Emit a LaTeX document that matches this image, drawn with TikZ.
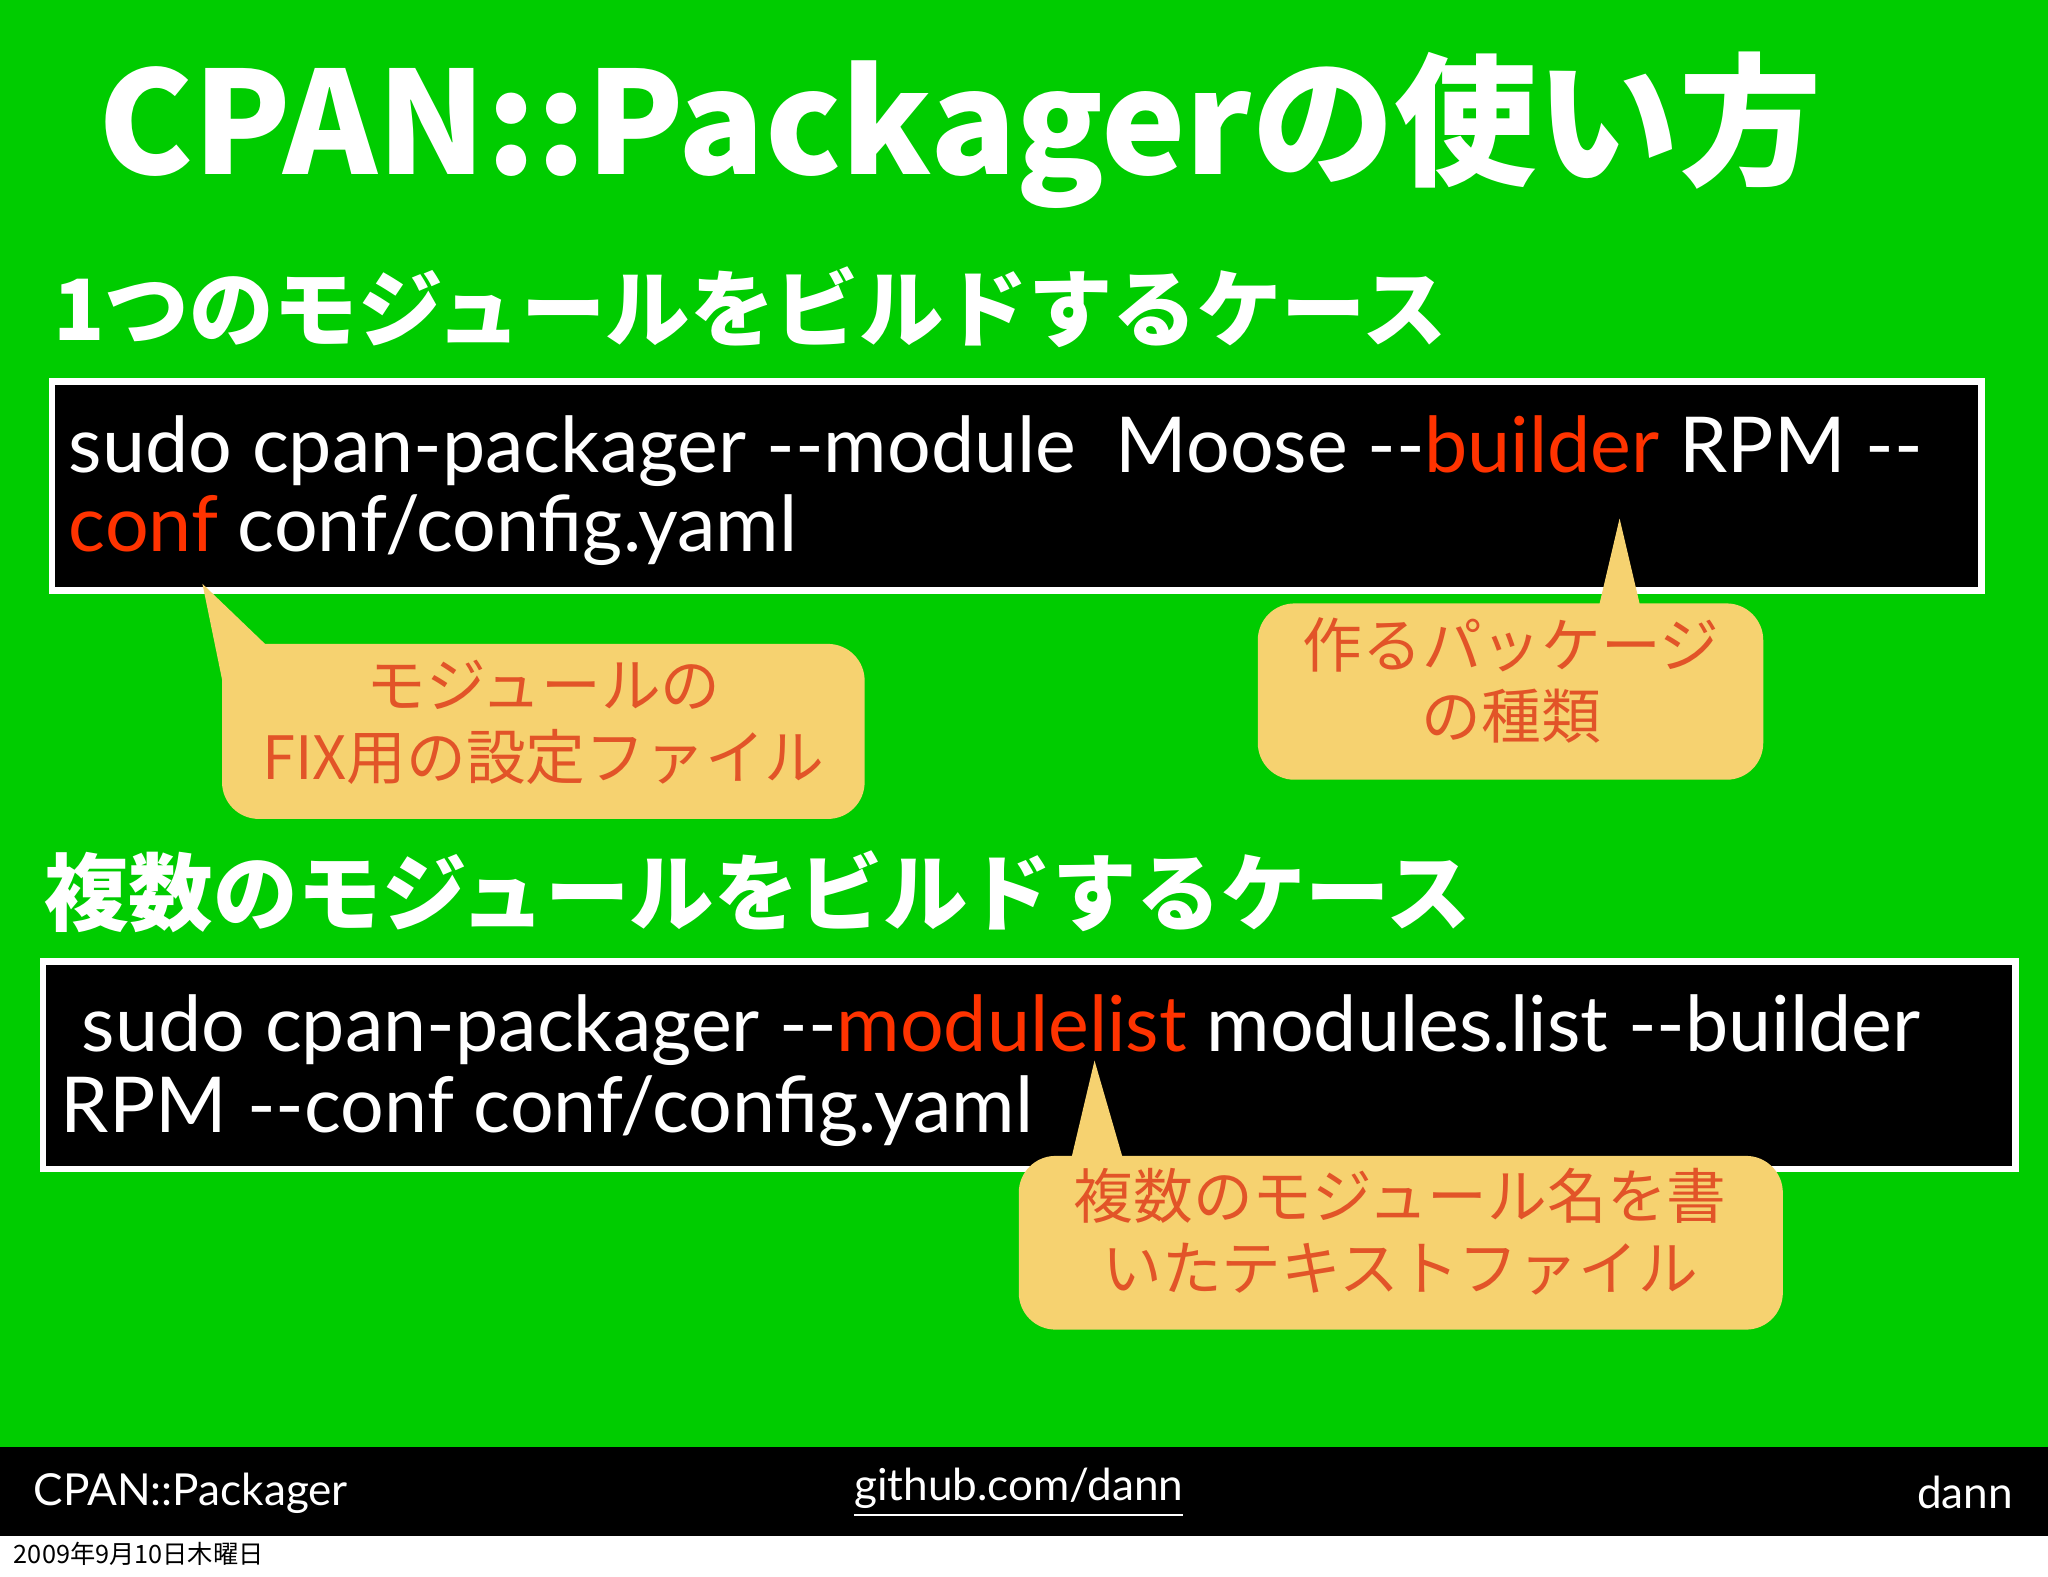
\documentclass[tikz,border=0pt]{standalone}
\usepackage{fontspec}
\setmainfont{Lato}
\newfontfamily\cjk{Noto Sans CJK JP}
\definecolor{bg}{RGB}{0,204,0}
\definecolor{cmdred}{RGB}{255,51,0}
\definecolor{callfill}{RGB}{246,210,112}
\definecolor{calltext}{RGB}{226,84,40}
\begin{document}
\begin{tikzpicture}[x=0.01cm,y=-0.01cm,
  cmdbox/.style={draw=white,line width=1.4pt,fill=black},
  call/.style={fill=callfill,rounded corners=8pt},
  calltxt/.style={text=calltext,font=\cjk\fontsize{13}{15.5}\selectfont,align=center},
  cmd/.style={text=white,anchor=base west,inner sep=0,font=\fontsize{16.8}{20}\selectfont},
  head/.style={text=white,anchor=west,inner sep=0,font=\cjk\bfseries\fontsize{18.4}{22}\selectfont}]
\useasboundingbox (0,0) rectangle (1568,1207);
\fill[white] (0,0) rectangle (1568,1207);
\fill[bg] (0,0) rectangle (1568,1108);
\fill[black] (0,1108) rectangle (1568,1176);
\node[text=white,anchor=west,inner sep=0,font=\cjk\bfseries\fontsize{31}{34}\selectfont] (title) at (75,100) {CPAN::Packagerの使い方};
\node[head] (h1) at (40,235) {1つのモジュールをビルドするケース};
\node[head] (h2) at (33,683) {複数のモジュールをビルドするケース};
\draw[cmdbox] (40,292) rectangle (1517,452);
\node[cmd] (l1) at (52,362) {sudo cpan-packager -{}-module\ \ Moose -{}-\textcolor{cmdred}{builder} RPM -{}-};
\node[cmd] (l2) at (52,422) {\textcolor{cmdred}{conf} conf/config.yaml};
\draw[cmdbox] (33,736) rectangle (1543,895);
\node[cmd] (m1) at (62,805) {sudo cpan-packager -{}-\textcolor{cmdred}{modulelist} modules.list -{}-builder};
\node[cmd] (m2) at (46,867) {RPM -{}-conf conf/config.yaml};
% callouts
\fill[call] (170,493) rectangle (662,627);
\fill[callfill] (155,447) -- (205,495) -- (172,530) -- cycle;
\node[calltxt] (c1) at (416,553) {モジュールの\\FIX用の設定ファイル};
\fill[call] (963,462) rectangle (1350,597);
\fill[callfill] (1240,397) -- (1256,465) -- (1224,465) -- cycle;
\node[calltxt] (c2) at (1157,521) {作るパッケージ\\の種類};
\fill[call] (780,885) rectangle (1365,1018);
\fill[callfill] (838,812) -- (860,888) -- (820,888) -- cycle;
\node[calltxt] (c3) at (1072,943) {複数のモジュール名を書\\いたテキストファイル};
% footer
\node[text=white,anchor=west,inner sep=0,font=\fontsize{9.6}{12}\selectfont] (f1) at (25,1143) {CPAN::Packager};
\node[text=white,inner sep=0,font=\fontsize{9.6}{12}\selectfont] (f2) at (780,1143) {\underline{github.com/dann}};
\node[text=white,anchor=east,inner sep=0,font=\fontsize{9.6}{12}\selectfont] (f3) at (1542,1143) {dann};
\node[text=black,anchor=west,inner sep=0,font=\cjk\fontsize{5.5}{7}\selectfont] (date) at (10,1190) {2009年9月10日木曜日};
\end{tikzpicture}
\end{document}
